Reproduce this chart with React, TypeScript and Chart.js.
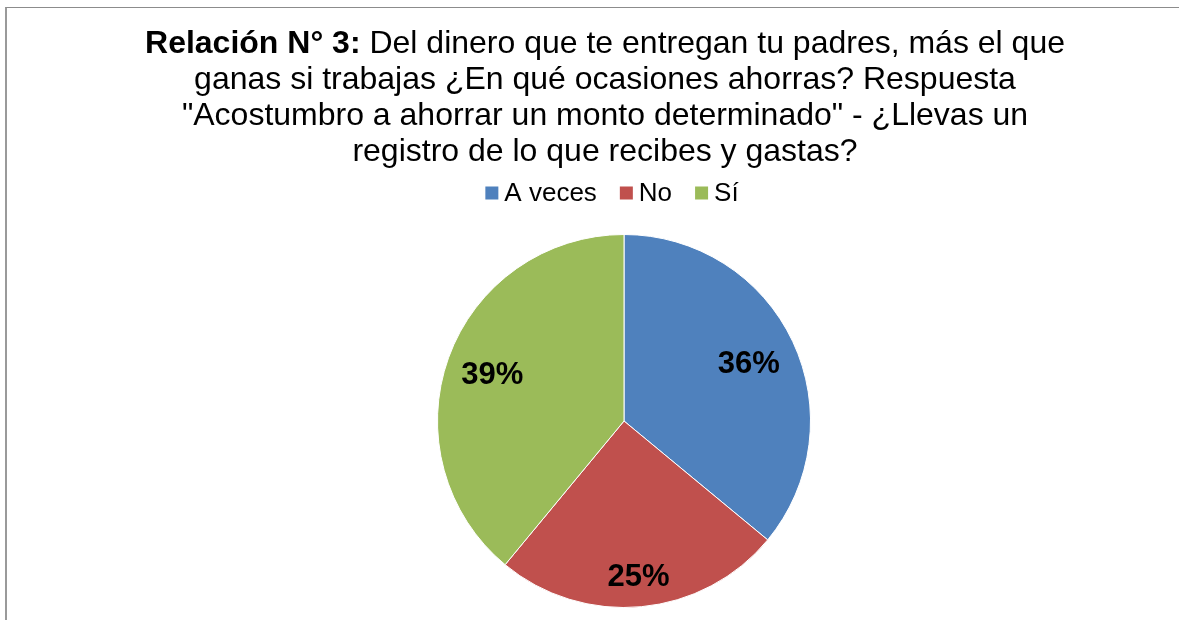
import React, { useEffect, useRef } from "react";
import { Chart, registerables } from "chart.js";

Chart.register(...registerables);

const categories = ["A veces", "No", "Sí"];
const percentages = [36, 25, 39];
const sliceColors = ["#4F81BD", "#C0504D", "#9BBB59"];
const titleBold = "Relación N° 3:";
const titleLines = [
  " Del dinero que te entregan tu padres, más el que",
  "ganas si trabajas ¿En qué ocasiones ahorras? Respuesta",
  "\"Acostumbro a ahorrar un monto determinado\" - ¿Llevas un",
  "registro de lo que recibes y gastas?",
];

const FONT = '"Liberation Sans", Arial, sans-serif';
const labelRadial = [0.74, 0.83, 0.75];

const titlePlugin = {
  id: "mixedTitle",
  afterDraw(chart: any) {
    const ctx = chart.ctx;
    const cx = 605;
    const baseY = 53;
    const lh = 36;
    ctx.save();
    ctx.fillStyle = "#000";
    ctx.textBaseline = "alphabetic";
    ctx.textAlign = "left";
    titleLines.forEach((line, i) => {
      const y = baseY + i * lh;
      if (i === 0) {
        ctx.font = `bold 32px ${FONT}`;
        const wb = ctx.measureText(titleBold).width;
        ctx.font = `32px ${FONT}`;
        const wn = ctx.measureText(line).width;
        const x0 = cx - (wb + wn) / 2;
        ctx.font = `bold 32px ${FONT}`;
        ctx.fillText(titleBold, x0, y);
        ctx.font = `32px ${FONT}`;
        ctx.fillText(line, x0 + wb, y);
      } else {
        ctx.font = `32px ${FONT}`;
        const w = ctx.measureText(line).width;
        ctx.fillText(line, cx - w / 2, y);
      }
    });

    // legend
    const labels: string[] = chart.data.labels;
    const colors: string[] = chart.data.datasets[0].backgroundColor;
    const box = 13;
    const gap = 6;
    const spacing = 23;
    const legendCx = 612;
    const legendCy = 193;
    ctx.font = `26px ${FONT}`;
    ctx.textBaseline = "middle";
    const widths = labels.map((l) => box + gap + ctx.measureText(l).width);
    const total = widths.reduce((a, b) => a + b, 0) + spacing * (labels.length - 1);
    let x = legendCx - total / 2;
    labels.forEach((l, i) => {
      ctx.fillStyle = colors[i];
      ctx.fillRect(x, legendCy - box / 2, box, box);
      ctx.fillStyle = "#000";
      ctx.fillText(l, x + box + gap, legendCy + 1);
      x += widths[i] + spacing;
    });
    ctx.restore();
  },
};

const labelPlugin = {
  id: "sliceLabels",
  afterDatasetsDraw(chart: any) {
    const ctx = chart.ctx;
    const meta = chart.getDatasetMeta(0);
    ctx.save();
    ctx.fillStyle = "#000";
    ctx.font = `bold 31px ${FONT}`;
    ctx.textAlign = "center";
    ctx.textBaseline = "middle";
    meta.data.forEach((arc: any, i: number) => {
      const p = arc.getProps(["x", "y", "startAngle", "endAngle", "outerRadius"], true);
      const mid = (p.startAngle + p.endAngle) / 2;
      const r = p.outerRadius * labelRadial[i];
      ctx.fillText(`${percentages[i]}%`, p.x + Math.cos(mid) * r, p.y + Math.sin(mid) * r + 2);
    });
    ctx.restore();
  },
};

export default function App() {
  const ref = useRef<HTMLCanvasElement | null>(null);
  useEffect(() => {
    if (!ref.current) return;
    const chart = new Chart(ref.current, {
      type: "pie",
      data: {
        labels: categories,
        datasets: [
          {
            data: percentages,
            backgroundColor: sliceColors,
            borderColor: "#ffffff",
            borderWidth: 1,
          },
        ],
      },
      options: {
        animation: false,
        responsive: false,
        layout: { padding: { top: 234, left: 69, right: 0, bottom: 12 } },
        plugins: {
          title: { display: false },
          tooltip: { enabled: false },
          legend: { display: false },
        },
      },
      plugins: [titlePlugin, labelPlugin],
    });
    return () => chart.destroy();
  }, []);
  return (
    <div
      style={{
        position: "fixed",
        left: 0,
        top: 0,
        width: 1179,
        height: 620,
        overflow: "hidden",
        background: "#fff",
      }}
    >
      <div
        style={{
          position: "absolute",
          left: 5,
          top: 7,
          width: 1300,
          height: 800,
          borderLeft: "2px solid #9a9a9a",
          borderTop: "1px solid #8c8c8c",
        }}
      />
      <canvas ref={ref} width={1179} height={620} style={{ position: "absolute", left: 0, top: 0 }} />
    </div>
  );
}
